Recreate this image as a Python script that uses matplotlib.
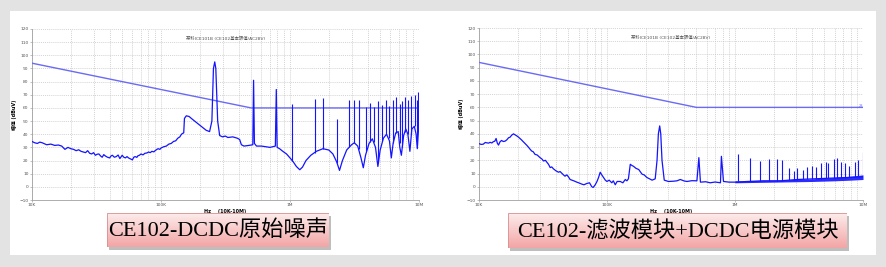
import matplotlib
matplotlib.use("Agg")
import matplotlib.pyplot as plt
import numpy as np
from matplotlib.patches import Rectangle
from matplotlib.ticker import FixedLocator, NullFormatter

plt.rcParams["font.family"] = ["DejaVu Sans", "Noto Sans CJK SC"]

# ---- data ----
limit_f = [1e4, 5e5, 1e7]
limit_db = [94, 60, 60]

# left panel: original DCDC noise, (Hz, dBuV)
left_trace = [
    (1.0e4, 34.5), (1.05e4, 33.5), (1.1e4, 33), (1.15e4, 34), (1.2e4, 33.5),
    (1.3e4, 32), (1.4e4, 32.5), (1.5e4, 31.5), (1.6e4, 31.8), (1.7e4, 31),
    (1.8e4, 28.5), (1.9e4, 30), (2.0e4, 29), (2.1e4, 28.5), (2.2e4, 27.5),
    (2.3e4, 28.2), (2.4e4, 27), (2.5e4, 26.5), (2.6e4, 26), (2.7e4, 27.5),
    (2.8e4, 25.5), (2.9e4, 25), (3.0e4, 26), (3.1e4, 24), (3.2e4, 24.8),
    (3.3e4, 25), (3.4e4, 23.5), (3.5e4, 22.5), (3.6e4, 24.5), (3.7e4, 23.5),
    (3.85e4, 22.5), (4.0e4, 22), (4.1e4, 23.5), (4.2e4, 24), (4.35e4, 22.5),
    (4.5e4, 23), (4.65e4, 24.2), (4.8e4, 21.5), (5.0e4, 24), (5.15e4, 22.5),
    (5.3e4, 22), (5.45e4, 23), (5.6e4, 22), (5.8e4, 21.2), (6.0e4, 20.5),
    (6.15e4, 22.5), (6.3e4, 23), (6.5e4, 22.4), (6.6e4, 23.5), (6.8e4, 24),
    (7.0e4, 25), (7.25e4, 24.3), (7.5e4, 25.5), (7.8e4, 25.8), (8.0e4, 26.5),
    (8.25e4, 26), (8.5e4, 27), (8.8e4, 26.6), (9.0e4, 27.5), (9.3e4, 28.5),
    (9.5e4, 29), (9.8e4, 28.5), (1.0e5, 29.5), (1.05e5, 30.5), (1.1e5, 31),
    (1.15e5, 32.5), (1.2e5, 33), (1.25e5, 34.5), (1.3e5, 35), (1.35e5, 37),
    (1.4e5, 38), (1.43e5, 39.5), (1.46e5, 40.5), (1.5e5, 41), (1.52e5, 52),
    (1.57e5, 54), (1.65e5, 53.5), (1.77e5, 51), (1.99e5, 47), (2.24e5, 43),
    (2.38e5, 42), (2.48e5, 50), (2.55e5, 90), (2.61e5, 95), (2.66e5, 90),
    (2.75e5, 50), (2.85e5, 39), (3.0e5, 38), (3.15e5, 38.6), (3.3e5, 37.5),
    (3.6e5, 38), (3.9e5, 37), (4.07e5, 36), (4.2e5, 32), (4.4e5, 31),
    (4.8e5, 31.5), (5.15e5, 32), (5.22e5, 81), (5.3e5, 33), (5.5e5, 31),
    (6.0e5, 31), (6.5e5, 30.5), (7.0e5, 30), (7.7e5, 31), (7.83e5, 74),
    (7.95e5, 30), (8.3e5, 29), (8.8e5, 27), (9.4e5, 25), (1.0e6, 22),
    (1.06e6, 19), (1.12e6, 15.5), (1.19e6, 13), (1.25e6, 15), (1.33e6, 20),
    (1.45e6, 24), (1.6e6, 27), (1.8e6, 29), (2.0e6, 28), (2.15e6, 25),
    (2.3e6, 19), (2.42e6, 12.5), (2.55e6, 20), (2.75e6, 28), (3.0e6, 32),
    (3.15e6, 33.5), (3.35e6, 31), (3.55e6, 22), (3.7e6, 14.5), (3.85e6, 24),
    (4.1e6, 33), (4.35e6, 36.5), (4.6e6, 30), (4.8e6, 15.5), (5.0e6, 28),
    (5.3e6, 37), (5.6e6, 40), (5.9e6, 35), (6.1e6, 22), (6.3e6, 33),
    (6.6e6, 41), (6.9e6, 42), (7.1e6, 30), (7.3e6, 24), (7.6e6, 39),
    (7.9e6, 44), (8.2e6, 40), (8.5e6, 27), (8.8e6, 44), (9.2e6, 46),
    (9.5e6, 40), (9.7e6, 29), (1.0e7, 50),
]
left_spike_f = [1.04e6, 1.55e6, 1.80e6, 2.31e6, 2.86e6, 3.12e6, 3.43e6, 3.91e6,
                4.20e6, 4.51e6, 4.84e6, 5.20e6, 5.59e6, 5.83e6, 6.29e6, 6.67e6,
                7.08e6, 7.38e6, 7.74e6, 8.22e6, 8.73e6, 9.25e6, 9.65e6, 9.89e6]
left_spike_base = [20, 26, 29, 18, 30, 33, 29, 27, 34, 34, 18, 35,
                   40, 37, 33, 41, 33, 30, 42, 40, 40, 46, 32, 45]
left_spike_peak = [63, 66.8, 67.3, 51.8, 65.8, 65.8, 66.3, 61, 63.7, 60.7, 65, 62.5,
                   66, 61.7, 66, 68.3, 63.2, 65, 68.3, 66, 68.8, 70, 66, 72]

# right panel: filter module + DCDC, (Hz, dBuV)
right_trace = [
    (1.0e4, 32.6), (1.04e4, 32), (1.08e4, 32.2), (1.12e4, 33.5), (1.15e4, 33.2),
    (1.19e4, 33), (1.22e4, 33.6), (1.26e4, 33.1), (1.29e4, 34), (1.33e4, 34.5),
    (1.36e4, 36.5), (1.39e4, 33), (1.42e4, 31.5), (1.46e4, 34), (1.50e4, 35),
    (1.55e4, 34.2), (1.60e4, 34.5), (1.65e4, 35.5), (1.70e4, 37), (1.75e4, 37.5),
    (1.80e4, 39), (1.86e4, 40), (1.91e4, 39.3), (1.97e4, 38.5), (2.03e4, 37.6),
    (2.09e4, 36.5), (2.15e4, 35.4), (2.22e4, 34), (2.3e4, 32.5), (2.37e4, 31.2),
    (2.43e4, 30), (2.5e4, 28.5), (2.58e4, 27), (2.65e4, 26.5), (2.74e4, 24.5),
    (2.85e4, 24), (3.0e4, 22), (3.1e4, 21), (3.19e4, 19.5), (3.3e4, 20),
    (3.49e4, 17), (3.6e4, 14.5), (3.7e4, 15), (3.82e4, 13.5), (4.0e4, 12),
    (4.18e4, 11), (4.3e4, 11.5), (4.57e4, 9), (4.7e4, 8), (4.85e4, 9),
    (5.0e4, 7.5), (5.15e4, 5.5), (5.32e4, 5), (5.5e4, 4.5), (5.81e4, 3.5),
    (6.0e4, 3), (6.36e4, 2), (6.6e4, 1.5), (6.96e4, 2.5), (7.3e4, 3),
    (7.61e4, 0), (7.8e4, -0.5), (8.09e4, 1.5), (8.35e4, 4), (8.59e4, 7),
    (8.85e4, 11), (9.1e4, 9), (9.4e4, 7), (9.7e4, 5), (9.99e4, 4),
    (1.04e5, 5), (1.09e5, 3), (1.12e5, 4.5), (1.16e5, 1.5), (1.2e5, 4),
    (1.27e5, 4), (1.33e5, 3), (1.39e5, 5.5), (1.43e5, 4.5), (1.47e5, 6),
    (1.52e5, 17), (1.57e5, 16), (1.61e5, 15.5), (1.68e5, 14), (1.77e5, 13),
    (1.88e5, 9.5), (1.95e5, 9), (2.05e5, 7), (2.15e5, 6), (2.25e5, 5),
    (2.38e5, 6), (2.46e5, 20), (2.52e5, 40), (2.58e5, 46), (2.63e5, 40),
    (2.69e5, 20), (2.8e5, 5), (3.02e5, 4), (3.3e5, 4.2), (3.52e5, 4.5),
    (3.74e5, 5.5), (4.0e5, 4.4), (4.22e5, 4), (4.6e5, 4.6), (5.04e5, 4.5),
    (5.22e5, 22), (5.37e5, 3.5), (5.9e5, 3.8), (6.4e5, 3), (7.0e5, 3.6),
    (7.7e5, 3), (7.83e5, 23), (8.13e5, 4), (9.0e5, 3.5), (1.04e6, 3.5),
    (1.24e6, 4), (1.67e6, 4.5), (2.26e6, 4.5), (3.07e6, 5.5), (4.14e6, 6),
    (5.56e6, 6.5), (7.5e6, 7), (1.0e7, 7.5),
]
right_band_f = [1.0e6, 2.0e6, 4.0e6, 6.0e6, 8.0e6, 1.0e7]
right_band_lo = [3, 3.5, 4, 4.5, 5, 5.5]
right_band_hi = [4.5, 5, 6, 7, 8, 9]
right_spike_f = [1.05e6, 1.32e6, 1.58e6, 1.84e6, 2.14e6, 2.34e6, 2.64e6, 2.89e6,
                 3.07e6, 3.42e6, 3.63e6, 4.02e6, 4.27e6, 4.72e6, 5.11e6, 5.36e6,
                 5.93e6, 6.22e6, 6.69e6, 7.19e6, 7.78e6, 8.61e6, 9.15e6, 9.95e6]
right_spike_base = [4, 4, 4.5, 4.5, 4.5, 4.5, 5, 5, 5, 5.5, 5.5, 6,
                    6, 6, 6.5, 6.5, 6.5, 7, 7, 7, 7.5, 7.5, 8, 8]
right_spike_peak = [24.5, 22, 19.7, 21, 21, 20, 14, 12, 14, 13, 15, 16,
                    15, 18, 19, 18, 21, 22, 18.5, 18, 16, 19, 20, 26]

y_ticks = list(range(-10, 121, 10))
x_major = [1e4, 1e5, 1e6, 1e7]
x_major_labels = ["10K", "100K", "1M", "10M"]
chart_title = "某科ICE101B (CE102基本限值/AC28V)"
left_caption = "CE102-DCDC原始噪声"
right_caption = "CE102-滤波模块+DCDC电源模块"

TRACE = "#1414ff"
LIMIT = "#6a6af5"
GRID = "#c4c4c4"

fig = plt.figure(figsize=(8.87, 2.67), dpi=100, facecolor="#e3e3e3")
W, H = 887.0, 267.0

# white card
fig.patches.append(Rectangle((10 / W, 1 - 255 / H), 866 / W, 244 / H,
                             transform=fig.transFigure, facecolor="white",
                             edgecolor="none", zorder=-10))


def panel(rect, trace, sf, sb, sp, band=None):
    tf, tdb = zip(*trace)
    ax = fig.add_axes(rect)
    ax.set_xscale("log")
    ax.set_xlim(1e4, 1e7)
    ax.set_ylim(-10, 120)
    ax.set_facecolor("white")
    minors = [m * d for d in [1e4, 1e5, 1e6] for m in range(2, 10)]
    ax.xaxis.set_major_locator(FixedLocator(x_major))
    ax.xaxis.set_minor_locator(FixedLocator(minors))
    ax.xaxis.set_minor_formatter(NullFormatter())
    ax.set_xticklabels(x_major_labels)
    ax.set_yticks(y_ticks)
    ax.grid(True, which="both", axis="x", color=GRID, lw=0.5, ls=(0, (1.5, 1.5)))
    ax.grid(True, which="major", axis="y", color=GRID, lw=0.5, ls=(0, (1.5, 1.5)))
    for s in ["top", "right"]:
        ax.spines[s].set_visible(False)
    for s in ["left", "bottom"]:
        ax.spines[s].set_color("#a0a0a0")
        ax.spines[s].set_linewidth(0.6)
    ax.tick_params(which="both", length=1.5, width=0.4, color="#909090",
                   labelsize=3.2, labelcolor="#555555", pad=1)
    ax.tick_params(which="minor", length=0)
    ax.plot(limit_f, limit_db, color=LIMIT, lw=1.0, zorder=3)
    if band is not None:
        ax.fill_between(band[0], band[1], band[2], color=TRACE, lw=0,
                        alpha=0.9, zorder=2)
    ax.plot(tf, tdb, color=TRACE, lw=0.9, zorder=4)
    ax.vlines(sf, sb, sp, color=TRACE, lw=0.8, zorder=4)
    ax.text(0.5, 0.944, chart_title, transform=ax.transAxes, ha="center",
            va="center", fontsize=3.2, color="#555555")
    ax.set_ylabel("幅值 (dBuV)", fontsize=3.5, fontweight="bold")
    ax.yaxis.set_label_coords(-0.04, 0.5)
    ax.set_xlabel("Hz    (10K-10M)", fontsize=3.5, fontweight="bold")
    ax.xaxis.set_label_coords(0.5, -0.055)
    return ax


panel([32 / W, 1 - 200 / H, 387 / W, 171 / H],
      left_trace, left_spike_f, left_spike_base, left_spike_peak)
axr = panel([479 / W, 1 - 200 / H, 384 / W, 172 / H],
            right_trace, right_spike_f, right_spike_base, right_spike_peak,
            band=(right_band_f, right_band_lo, right_band_hi))
axr.text(1.0e7, 61, "28", fontsize=2.5, color=LIMIT, ha="right", va="center")


def caption(x0, y0, x1, y1, text):
    # shadow
    fig.patches.append(Rectangle(((x0 + 2) / W, 1 - (y1 + 3) / H), (x1 - x0) / W,
                                 (y1 - y0) / H, transform=fig.transFigure,
                                 facecolor="#8a8a8a", alpha=0.55, edgecolor="none",
                                 zorder=-5))
    cax = fig.add_axes([x0 / W, 1 - y1 / H, (x1 - x0) / W, (y1 - y0) / H])
    top = np.array([253, 236, 236]) / 255.0
    bot = np.array([243, 165, 165]) / 255.0
    t = np.linspace(0, 1, 64)[:, None, None]
    grad = top * (1 - t) + bot * t
    grad = np.repeat(grad, 4, axis=1)
    cax.imshow(grad, aspect="auto", extent=(0, 1, 0, 1))
    cax.set_xlim(0, 1)
    cax.set_ylim(0, 1)
    cax.axis("off")
    cax.add_patch(Rectangle((0, 0), 1, 1, fill=False, edgecolor="#d89090", lw=0.6))
    cax.text(0.5, 0.47, text, ha="center", va="center", fontsize=16,
             family=["Liberation Serif", "Noto Sans CJK SC"], color="black")


caption(107, 213, 329, 247, left_caption)
caption(508, 213, 847, 248, right_caption)

fig.savefig("out.png", dpi=100, facecolor=fig.get_facecolor())
